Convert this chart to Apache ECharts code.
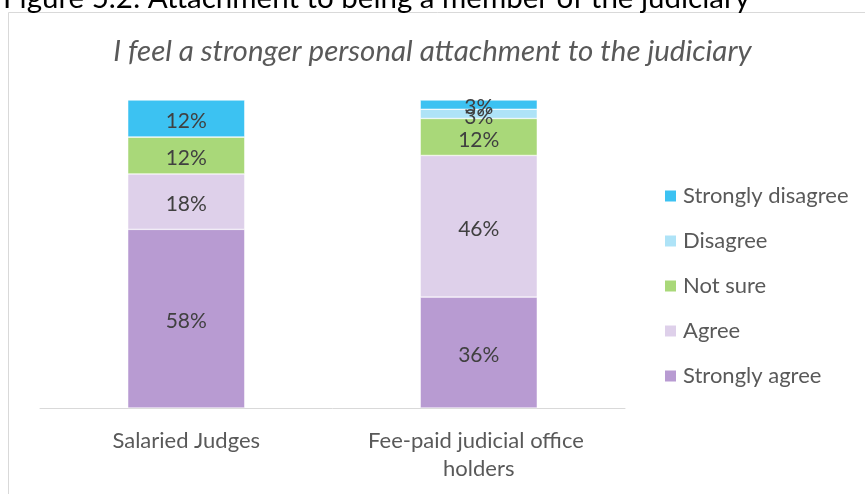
<!DOCTYPE html>
<html>
<head>
<meta charset="utf-8">
<script src="https://cdn.jsdelivr.net/npm/echarts@6/dist/echarts.min.js"></script>
<style>
  html, body { margin: 0; padding: 0; background: #fff; }
  #chart { width: 865px; height: 494px; }
</style>
</head>
<body>
<div id="chart"></div>
<script>
  // data
  const categories = ['Salaried Judges', 'Fee-paid judicial office holders'];
  const stronglyAgree = [58, 36];
  const agree = [18, 46];
  const notSure = [12, 12];
  const disagree = [0, 3];
  const stronglyDisagree = [12, 3];
  const legendNames = ['Strongly disagree', 'Disagree', 'Not sure', 'Agree', 'Strongly agree'];

  const font = 'Lato, "Open Sans", sans-serif';

  var chart = echarts.init(document.getElementById('chart'));

  const makeSeries = (name, data, color) => ({
    name: name,
    type: 'bar',
    stack: 'total',
    barWidth: '40%',
    data: data,
    itemStyle: { color: color, borderColor: '#fff', borderWidth: 0.5 },
    label: {
      show: true,
      position: 'inside',
      offset: [0, 3],
      color: '#404040',
      fontFamily: font,
      fontSize: 21,
      formatter: (p) => (p.value ? p.value + '%' : ''),
    },
  });

  var option = {
    animation: false,
    title: [
      {
        text: 'Figure 5.2: Attachment to being a member of the judiciary',
        left: -2,
        top: -22,
        textStyle: { fontFamily: font, fontSize: 29.5, fontWeight: 'normal', color: '#000' },
      },
      {
        text: 'I feel a stronger personal attachment to the judiciary',
        left: 'center',
        top: 31,
        textStyle: { fontFamily: font, fontSize: 29.5, fontStyle: 'italic', fontWeight: 'normal', color: '#595959' },
      },
    ],
    graphic: [
      {
        type: 'rect',
        shape: { x: 8.5, y: 12.5, width: 900, height: 600 },
        style: { fill: 'none', stroke: '#d9d9d9', lineWidth: 1 },
        silent: true,
      },
    ],
    legend: {
      orient: 'vertical',
      left: 658,
      top: 180,
      itemGap: 23,
      itemWidth: 13,
      itemHeight: 13,
      icon: 'rect',
      data: legendNames,
      textStyle: { fontFamily: font, fontSize: 22, color: '#595959', padding: [0, 0, 0, 1] },
    },
    grid: { left: 40, right: 240, top: 100, bottom: 86 },
    xAxis: {
      type: 'category',
      data: categories,
      axisLine: { lineStyle: { color: '#d9d9d9', width: 1 } },
      axisTick: { show: false },
      axisLabel: {
        interval: 0,
        color: '#595959',
        fontFamily: font,
        fontSize: 22,
        margin: 19,
        lineHeight: 28,
        width: 240,
        overflow: 'break',
      },
    },
    yAxis: { type: 'value', min: 0, max: 100, show: false, splitLine: { show: false } },
    series: [
      makeSeries('Strongly agree', stronglyAgree, '#b89bd2'),
      makeSeries('Agree', agree, '#ded0ea'),
      makeSeries('Not sure', notSure, '#a9d879'),
      makeSeries('Disagree', disagree, '#aee3f7'),
      makeSeries('Strongly disagree', stronglyDisagree, '#3cc2f2'),
    ],
  };

  option && chart.setOption(option);
</script>
</body>
</html>
